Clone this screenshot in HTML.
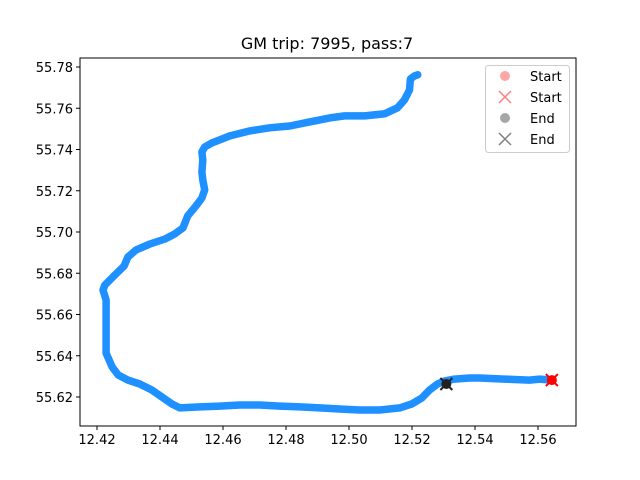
<!DOCTYPE html>
<html><head><meta charset="utf-8"><style>
body{margin:0;background:#fff}
svg{display:block;font-family:"DejaVu Sans","Liberation Sans",sans-serif}
</style></head><body>
<svg id="c" width="640" height="480"></svg>
<script>
const lon=[12.5644,12.5605,12.5573,12.5494,12.5415,12.5383,12.5335,12.5304,12.5281,12.5256,12.5231,12.5199,12.5161,12.5097,12.5034,12.4970,12.4907,12.4844,12.4780,12.4717,12.4653,12.4590,12.4527,12.4463,12.4438,12.4406,12.4374,12.4336,12.4298,12.4267,12.4248,12.4229,12.4229,12.4229,12.4219,12.4225,12.4257,12.4286,12.4298,12.4324,12.4368,12.4416,12.4447,12.4473,12.4488,12.4514,12.4533,12.4542,12.4536,12.4533,12.4536,12.4533,12.4542,12.4565,12.4622,12.4685,12.4748,12.4812,12.4875,12.4939,12.4986,12.5050,12.5113,12.5154,12.5176,12.5192,12.5195,12.5208,12.5218];
const lat=[55.6282,55.6287,55.6282,55.6287,55.6292,55.6292,55.6287,55.6278,55.6263,55.6234,55.6195,55.6166,55.6147,55.6137,55.6137,55.6142,55.6147,55.6152,55.6156,55.6161,55.6161,55.6156,55.6152,55.6147,55.6166,55.6200,55.6234,55.6263,55.6282,55.6307,55.6346,55.6413,55.6573,55.6670,55.6719,55.6743,55.6792,55.6835,55.6879,55.6913,55.6942,55.6966,55.6991,55.7020,55.7078,55.7126,55.7165,55.7204,55.7252,55.7291,55.7349,55.7388,55.7412,55.7432,55.7466,55.7490,55.7505,55.7514,55.7534,55.7553,55.7563,55.7563,55.7573,55.7602,55.7640,55.7689,55.7742,55.7757,55.7762];
const startPt=[12.5644,55.6282];
const endPt=[12.5309,55.6263];
const xTicks=[12.42,12.44,12.46,12.48,12.50,12.52,12.54,12.56];
const yTicks=[55.62,55.64,55.66,55.68,55.70,55.72,55.74,55.76,55.78];
const legendLabels=["Start","Start","End","End"];
const NS="http://www.w3.org/2000/svg";
const svg=document.getElementById('c');
const L=80,R=576,T=58,B=426;
function sx(v){return 97+(v-12.42)/0.02*63;}
function sy(v){return 397-(v-55.62)/0.02*41.25;}
function mk(tag,attrs,parent){const e=document.createElementNS(NS,tag);for(const k in attrs)e.setAttribute(k,attrs[k]);(parent||svg).appendChild(e);return e;}
const t=mk('text',{x:327,y:49,'text-anchor':'middle','font-size':16,fill:'#000'});t.textContent='GM trip: 7995, pass:7';


let d='';lon.forEach((v,i)=>{d+=(i?'L':'M')+sx(v).toFixed(1)+' '+sy(lat[i]).toFixed(1);});
const p=mk('path',{d:d,fill:'none',stroke:'#1e90ff','stroke-width':7.5,'stroke-linejoin':'round','stroke-linecap':'round'});


function xmark(cx,cy,s,col,w,parent){const g=mk('path',{d:`M${cx-s} ${cy-s}L${cx+s} ${cy+s}M${cx-s} ${cy+s}L${cx+s} ${cy-s}`,stroke:col,'stroke-width':w,fill:'none'},parent);return g;}
const ex=sx(endPt[0]),ey=sy(endPt[1]);
const ec=mk('circle',{cx:ex,cy:ey,r:5,fill:'#222'});


const exm=xmark(ex,ey,6,'#222',2);


const stx=sx(startPt[0]),sty=sy(startPt[1]);
const sc=mk('circle',{cx:stx,cy:sty,r:5,fill:'#ff0000'});


const sxm=xmark(stx,sty,6,'#ff0000',2);


const fr=mk('rect',{x:L,y:T,width:R-L,height:B-T,fill:'none',stroke:'#000','stroke-width':1});


xTicks.forEach(v=>{const x=sx(v);
 const tk=mk('line',{x1:x,x2:x,y1:B,y2:B+4,stroke:'#000'});
 
 
 const lb=mk('text',{x:x,y:B+18,'text-anchor':'middle','font-size':13,fill:'#000'});lb.textContent=v.toFixed(2);
 
 });
yTicks.forEach(v=>{const y=sy(v);
 const tk=mk('line',{x1:L-4,x2:L,y1:y,y2:y,stroke:'#000'});
 
 
 const lb=mk('text',{x:L-7,y:y+5,'text-anchor':'end','font-size':13,fill:'#000'});lb.textContent=v.toFixed(2);
 
 });
const lg=mk('g',{});


mk('rect',{x:485.5,y:65.5,width:84,height:87,rx:3,fill:'#fff','fill-opacity':0.8,stroke:'#ccc'},lg);
legendLabels.forEach((s,i)=>{const y=76+i*21;
 const col=i<2?'rgba(255,0,0,0.35)':'rgba(0,0,0,0.35)';
 const xc=i<2?'rgba(255,0,0,0.5)':'rgba(0,0,0,0.5)';
 let m;
 if(i%2===0) m=mk('circle',{cx:505,cy:y,r:5,fill:col},lg); else m=xmark(505,y,6,xc,1.5,lg);
 
 
 const tx=mk('text',{x:530,y:y+5,'font-size':13,fill:'#000'},lg);tx.textContent=s;
 
 });
</script>
</body></html>
